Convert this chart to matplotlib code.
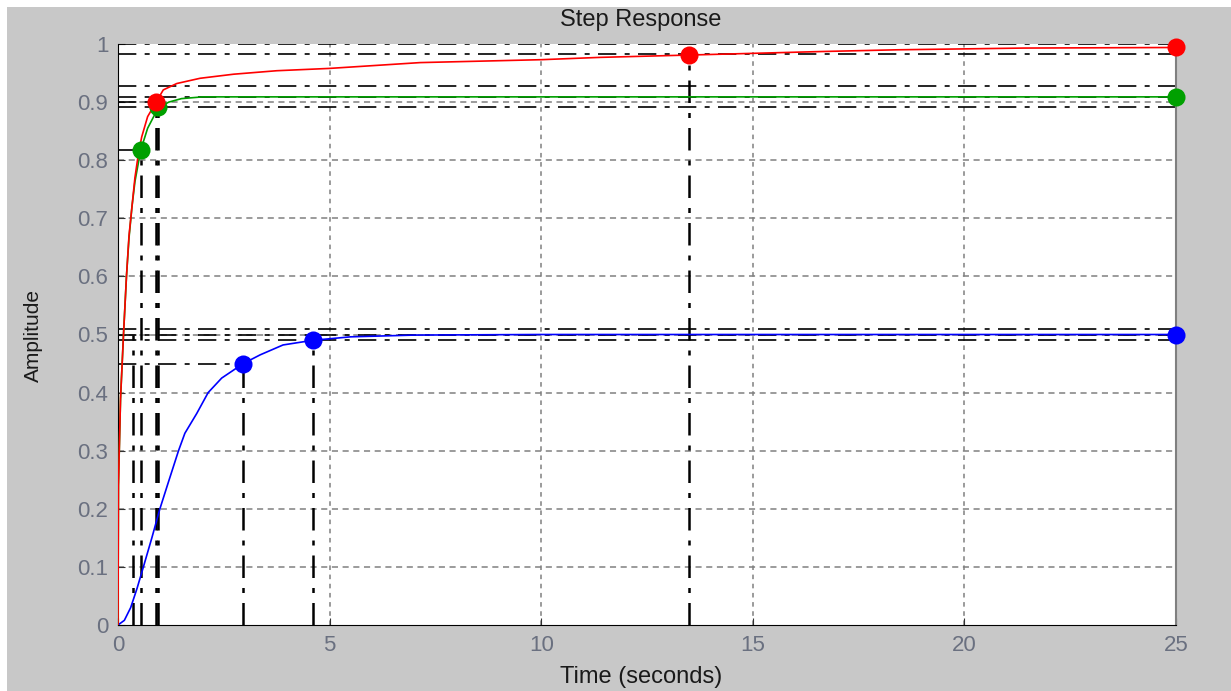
import matplotlib
matplotlib.use("Agg")
import matplotlib.pyplot as plt
from matplotlib.patches import Rectangle

plt.rcParams['font.family'] = ['Liberation Sans', 'DejaVu Sans']

# ---- data ----
blue_t = [0, 0.15, 0.3, 0.45, 0.6, 0.8, 0.99, 1.2, 1.43, 1.58, 1.86, 2.13, 2.45, 2.96, 3.36, 3.9, 4.6, 5.5, 7.0, 10.0, 25.0]
blue_y = [0, 0.008, 0.03, 0.063, 0.1, 0.15, 0.2, 0.248, 0.3, 0.33, 0.364, 0.4, 0.425, 0.45, 0.465, 0.482, 0.49, 0.496, 0.499, 0.5, 0.5]

green_t = [0, 0.01, 0.06, 0.13, 0.2, 0.26, 0.33, 0.4, 0.48, 0.54, 0.7, 0.95, 1.2, 1.5, 2.0, 25.0]
green_y = [0, 0.24, 0.39, 0.5, 0.6, 0.666, 0.72, 0.763, 0.795, 0.818, 0.855, 0.89, 0.9, 0.906, 0.909, 0.909]

red_t = [0, 0.01, 0.06, 0.13, 0.2, 0.26, 0.33, 0.4, 0.48, 0.56, 0.7, 0.9, 1.07, 1.39, 1.94, 2.73, 3.75,
         5.0, 7.14, 10.0, 11.4, 13.5, 16.6, 18.4, 21.4, 25.0]
red_y = [0, 0.24, 0.39, 0.5, 0.6, 0.67, 0.72, 0.77, 0.81, 0.84, 0.875, 0.9, 0.921, 0.932, 0.941, 0.948, 0.954,
         0.958, 0.968, 0.973, 0.977, 0.981, 0.987, 0.99, 0.993, 0.994]

# characteristic points (time, amplitude)
blue_pts_t = [2.96, 4.6, 25.0]
blue_pts_y = [0.45, 0.49, 0.5]
green_pts_t = [0.54, 0.95, 25.0]
green_pts_y = [0.818, 0.891, 0.909]
red_pts_t = [0.9, 13.5, 25.0]
red_pts_y = [0.9, 0.981, 0.994]

# full-width reference levels (settling bands / final values)
band_levels = [1.0, 0.983, 0.928, 0.909, 0.891, 0.51, 0.5, 0.49]
# vertical marker lines: (time, top amplitude)
vline_t = [0.35, 0.54, 0.9, 0.95, 2.96, 4.6, 13.5]
vline_top = [0.5, 0.818, 0.9, 0.891, 0.45, 0.49, 0.981]
# horizontal marker lines from the y axis: (amplitude, end time)
hline_y = [0.818, 0.9, 0.45]
hline_end = [0.54, 0.9, 2.96]

xticks = [0, 5, 10, 15, 20, 25]
yticks = [0, 0.1, 0.2, 0.3, 0.4, 0.5, 0.6, 0.7, 0.8, 0.9, 1]
ytick_labels = ['0', '0.1', '0.2', '0.3', '0.4', '0.5', '0.6', '0.7', '0.8', '0.9', '1']

# ---- figure ----
W, H = 1231, 691
fig = plt.figure(figsize=(W / 100, H / 100), dpi=100, facecolor='white')
fig.patches.append(Rectangle((7 / W, 0), 1 - 7 / W, 1 - 7 / H, transform=fig.transFigure,
                             facecolor='#c8c8c8', edgecolor='none', zorder=-10))

ax = fig.add_axes([118 / W, 1 - 625 / H, (1176 - 118) / W, (625 - 44) / H])
ax.set_facecolor('white')
ax.set_xlim(0, 25)
ax.set_ylim(0, 1)

# grid (gray dashed)
for x in xticks[1:-1]:
    ax.axvline(x, color='#808080', lw=1.1, ls=(0, (3, 3)), zorder=1)
for y in yticks[1:-1]:
    ax.axhline(y, color='#808080', lw=1.1, ls=(0, (4, 3)), zorder=1)

dd = (0, (11, 5, 3, 5))
for lvl in band_levels:
    ax.axhline(lvl, color='black', lw=1.2, ls=dd, zorder=2)
for t, top in zip(vline_t, vline_top):
    ax.plot([t, t], [0, top], color='black', lw=1.8, ls=(0, (9, 4, 2, 4)), zorder=2)
for y, te in zip(hline_y, hline_end):
    ax.plot([0, te], [y, y], color='black', lw=1.2, ls=dd, zorder=2)

ax.plot(blue_t, blue_y, color='#0000ff', lw=1.2, zorder=3)
ax.plot(green_t, green_y, color='#00a000', lw=1.2, zorder=3)
ax.plot(red_t, red_y, color='#ff0000', lw=1.2, zorder=4)

ms = 13
ax.plot(blue_pts_t, blue_pts_y, 'o', color='#0000ff', ms=ms, mec='none', zorder=5, clip_on=False)
ax.plot(green_pts_t, green_pts_y, 'o', color='#00a000', ms=ms, mec='none', zorder=5, clip_on=False)
ax.plot(red_pts_t, red_pts_y, 'o', color='#ff0000', ms=ms, mec='none', zorder=6, clip_on=False)

# spines
ax.spines['left'].set_color('black')
ax.spines['bottom'].set_color('black')
ax.spines['right'].set_color('#808080')
ax.spines['right'].set_linewidth(1.5)
ax.spines['top'].set_visible(False)

ax.set_xticks(xticks)
ax.set_xticklabels([str(v) for v in xticks])
ax.set_yticks(yticks)
ax.set_yticklabels(ytick_labels)
ax.tick_params(direction='in', length=5, colors='#333333', labelcolor='#6a7080', labelsize=16, pad=7)

fig.text(641 / W, 1 - 20 / H, 'Step Response', ha='center', va='center', fontsize=17, color='#1a1a1a')
fig.text(641 / W, 1 - 677 / H, 'Time (seconds)', ha='center', va='center', fontsize=17, color='#1a1a1a')
fig.text(33 / W, 1 - 335 / H, 'Amplitude', ha='center', va='center', rotation=90, fontsize=15, color='#1a1a1a')

fig.savefig('out.png', dpi=100, facecolor=fig.get_facecolor())
